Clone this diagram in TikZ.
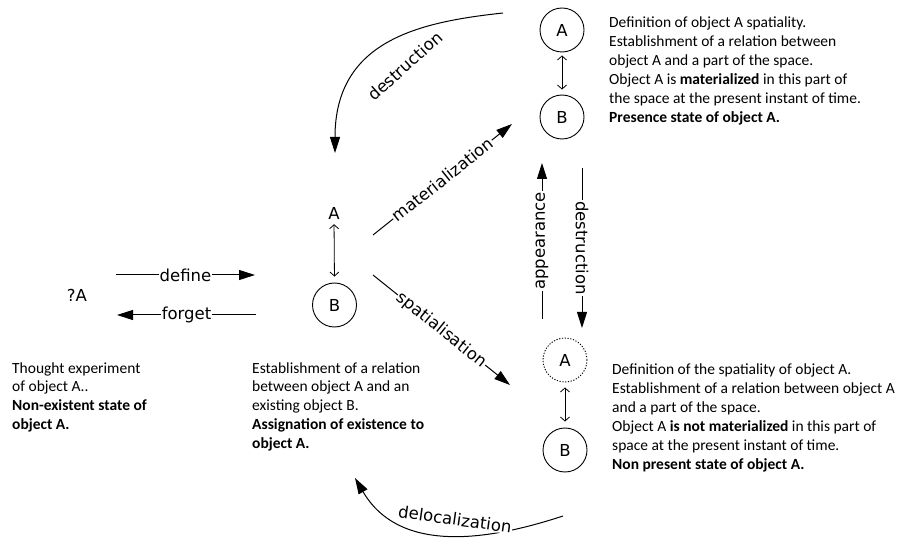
\documentclass[tikz,border=0pt]{standalone}
\usepackage{fontspec}
\setmainfont{Carlito}
\newfontfamily\lblfont{DejaVu Sans}
\usetikzlibrary{arrows.meta}
\begin{document}
\begin{tikzpicture}[x=1pt,y=-1pt,
  conn/.style={line width=1pt, -{Triangle[length=16pt,width=10pt]}},
  dbl/.style={line width=0.8pt, {Straight Barb[length=4pt,width=9pt]}-{Straight Barb[length=4pt,width=9pt]}},
  lblf/.style={font=\lblfont\fontsize{16.5}{20}\selectfont},
  lbl/.style={lblf, fill=white, inner xsep=1pt, inner ysep=1pt},
  obj/.style={circle, draw, line width=0.9pt, minimum size=44pt, inner sep=0pt, lblf},
  desc/.style={anchor=base west, inner sep=0pt, font=\fontsize{15.5}{19}\selectfont},
]
\useasboundingbox (0,0) rectangle (903,540);
\fill[white] (0,0) rectangle (903,540);

% left state
\node[lblf, inner sep=0pt] (qa) at (77,295) {?A};
\coordinate (def1) at (116,275);
\coordinate (def2) at (255,275);
\coordinate (fg1) at (256,315);
\coordinate (fg2) at (117,315);
\draw[conn] (def1) -- node[lbl]{define} (def2);
\draw[conn] (fg1) -- node[lbl]{forget} (fg2);

% middle state
\node[lblf, inner sep=0pt] (ma) at (334,213) {A};
\node[obj] (mb) at (334.5,305) {B};
\draw[dbl, shorten <=5pt, shorten >=6pt] (ma.south) -- (mb.north);

% top right state
\node[obj] (ta) at (562,30) {A};
\node[obj] (tb) at (562,117) {B};
\draw[dbl, shorten <=3pt, shorten >=5pt] (ta.south) -- (tb.north);

% bottom right state
\node[obj, dash pattern=on 1.2pt off 1.6pt] (ba) at (565,360) {A};
\node[obj] (bb) at (565,450) {B};
\draw[dbl, shorten <=5pt, shorten >=6pt] (ba.south) -- (bb.north);

% transitions
\coordinate (mat1) at (373,235);
\coordinate (mat2) at (512,124);
\draw[conn] (mat1) -- node[lbl, sloped]{materialization} (mat2);
\coordinate (sp1) at (373,275);
\coordinate (sp2) at (510,385);
\draw[conn] (sp1) -- node[lbl, sloped]{spatialisation} (sp2);

\coordinate (ap1) at (542,319);
\coordinate (ap2) at (542,163);
\draw[conn] (ap1) -- node[lbl, sloped]{appearance} (ap2);
\coordinate (ds1) at (582,168);
\coordinate (ds2) at (582,328);
\draw[conn] (ds1) -- node[lbl, sloped]{destruction} (ds2);

\coordinate (tc1) at (503,13);
\coordinate (tc2) at (335,153);
\draw[conn] (tc1) .. controls (420,22) and (335,40) .. (tc2);
\node[lbl, rotate=42] (tclab) at (405,66) {destruction};

\coordinate (dl1) at (563,516);
\coordinate (dl2) at (355,478);
\draw[conn] (dl1) .. controls (490,540) and (400,555) .. (dl2);
\node[lbl, rotate=-8] (dllab) at (455,519) {delocalization};

% descriptions
\node[desc] (t1) at (12,373) {\parbox[t]{220pt}{\raggedright Thought experiment\\of object A..\\\textbf{Non-existent state of}\\\textbf{object A.}}};
\node[desc] (t2) at (252,373) {\parbox[t]{240pt}{\raggedright Establishment of a relation\\between object A and an\\existing object B.\\\textbf{Assignation of existence to}\\\textbf{object A.}}};
\node[desc] (t3) at (609,28) {\parbox[t]{290pt}{\raggedright Definition of object A spatiality.\\Establishment of a relation between\\object A and a part of the space.\\Object A is \textbf{materialized} in this part of\\the space at the present instant of time.\\\textbf{Presence state of object A.}}};
\node[desc] (t4) at (612,374) {\parbox[t]{290pt}{\raggedright Definition of the spatiality of object A.\\Establishment of a relation between object A\\and a part of the space.\\Object A \textbf{is not materialized} in this part of\\space at the present instant of time.\\\textbf{Non present state of object A.}}};
\end{tikzpicture}
\end{document}
